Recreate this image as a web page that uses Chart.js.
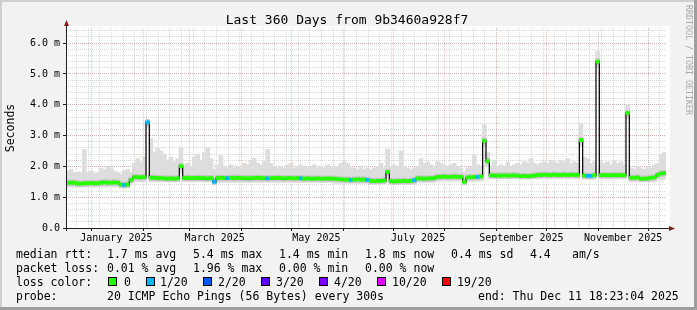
<!DOCTYPE html>
<html>
<head>
<meta charset="utf-8">
<script src="https://cdn.jsdelivr.net/npm/chart.js@4.4.1/dist/chart.umd.min.js"></script>
<style>
  html, body { margin: 0; padding: 0; background: #f2f2f2; }
</style>
</head>
<body>
<canvas id="myChart" width="697" height="310"></canvas>
<script>
// graph window: 360 days ending Thu Dec 11 18:23:04 2025 (UTC)
const startTime = Date.UTC(2024, 11, 16, 18, 23, 4)
const DAY = 86400000
const spanDays = 360
const bucketDays = 2

// median rtt per 2-day bucket, ms
const median = [
  1.47, 1.47, 1.47, 1.44, 1.44, 1.45, 1.45, 1.46, 1.45, 1.45,
  1.47, 1.48, 1.47, 1.47, 1.48, 1.47, 1.41, 1.40, 1.41, 1.56,
  1.65, 1.65, 1.64, 1.65, 3.43, 1.63, 1.63, 1.62, 1.62, 1.61,
  1.60, 1.61, 1.60, 1.61, 2.01, 1.62, 1.63, 1.62, 1.62, 1.63,
  1.62, 1.62, 1.61, 1.62, 1.50, 1.62, 1.63, 1.62, 1.62, 1.63,
  1.62, 1.63, 1.62, 1.62, 1.61, 1.62, 1.62, 1.63, 1.62, 1.62,
  1.61, 1.62, 1.62, 1.63, 1.62, 1.61, 1.62, 1.62, 1.61, 1.62,
  1.61, 1.60, 1.61, 1.60, 1.60, 1.61, 1.60, 1.60, 1.61, 1.60,
  1.60, 1.59, 1.58, 1.57, 1.57, 1.56, 1.57, 1.58, 1.57, 1.57,
  1.56, 1.53, 1.52, 1.53, 1.53, 1.54, 1.82, 1.52, 1.51, 1.52,
  1.52, 1.53, 1.52, 1.53, 1.55, 1.61, 1.61, 1.60, 1.61, 1.61,
  1.62, 1.66, 1.66, 1.67, 1.66, 1.66, 1.67, 1.66, 1.66, 1.50,
  1.64, 1.65, 1.65, 1.66, 1.67, 2.83, 2.17, 1.71, 1.70, 1.70,
  1.70, 1.71, 1.70, 1.70, 1.71, 1.70, 1.68, 1.69, 1.68, 1.69,
  1.70, 1.72, 1.72, 1.73, 1.72, 1.72, 1.73, 1.72, 1.72, 1.73,
  1.72, 1.73, 1.72, 1.72, 2.85, 1.70, 1.69, 1.69, 1.71, 5.40,
  1.71, 1.72, 1.71, 1.71, 1.72, 1.71, 1.72, 1.71, 3.73, 1.63,
  1.63, 1.64, 1.60, 1.60, 1.61, 1.63, 1.64, 1.72, 1.77, 1.78
]

// smoke: lowest and highest ping per bucket, ms
const smokeLo = [
  1.33, 1.33, 1.33, 1.33, 1.33, 1.33, 1.33, 1.33, 1.33, 1.33,
  1.33, 1.33, 1.33, 1.33, 1.33, 1.33, 1.30, 1.30, 1.30, 1.42,
  1.50, 1.50, 1.50, 1.50, 3.25, 1.50, 1.50, 1.50, 1.50, 1.50,
  1.50, 1.50, 1.50, 1.50, 1.85, 1.50, 1.50, 1.50, 1.50, 1.50,
  1.50, 1.50, 1.50, 1.50, 1.40, 1.48, 1.48, 1.48, 1.48, 1.48,
  1.48, 1.48, 1.48, 1.48, 1.48, 1.48, 1.48, 1.48, 1.48, 1.48,
  1.48, 1.48, 1.48, 1.48, 1.48, 1.48, 1.48, 1.48, 1.48, 1.48,
  1.48, 1.48, 1.48, 1.48, 1.48, 1.48, 1.48, 1.48, 1.48, 1.48,
  1.45, 1.45, 1.45, 1.45, 1.45, 1.45, 1.45, 1.45, 1.45, 1.45,
  1.45, 1.42, 1.42, 1.42, 1.42, 1.42, 1.65, 1.42, 1.42, 1.42,
  1.42, 1.42, 1.42, 1.42, 1.42, 1.48, 1.48, 1.48, 1.48, 1.48,
  1.48, 1.52, 1.52, 1.52, 1.52, 1.52, 1.52, 1.52, 1.52, 1.40,
  1.52, 1.52, 1.52, 1.52, 1.52, 2.65, 2.00, 1.60, 1.60, 1.60,
  1.60, 1.60, 1.60, 1.60, 1.60, 1.60, 1.60, 1.60, 1.60, 1.60,
  1.60, 1.60, 1.60, 1.60, 1.60, 1.60, 1.60, 1.60, 1.60, 1.60,
  1.60, 1.60, 1.60, 1.60, 2.65, 1.58, 1.58, 1.58, 1.58, 5.20,
  1.60, 1.60, 1.60, 1.60, 1.60, 1.60, 1.60, 1.60, 3.55, 1.50,
  1.50, 1.50, 1.50, 1.50, 1.50, 1.50, 1.50, 1.58, 1.58, 1.58
]
const smokeHi = [
  1.85, 1.90, 1.80, 1.82, 1.78, 2.55, 1.80, 1.85, 1.75, 1.80,
  1.95, 1.90, 2.00, 1.95, 1.85, 1.80, 1.75, 1.85, 1.90, 1.80,
  2.10, 2.25, 2.15, 2.30, 3.50, 2.90, 2.45, 2.60, 2.50, 2.40,
  2.20, 2.30, 2.15, 2.25, 2.60, 2.05, 2.10, 2.00, 2.30, 2.40,
  2.20, 2.45, 2.60, 2.25, 1.90, 2.05, 2.35, 2.00, 1.95, 2.05,
  1.95, 2.00, 1.95, 2.10, 2.05, 2.20, 2.25, 2.10, 2.05, 2.15,
  2.55, 2.10, 2.00, 1.95, 2.00, 1.95, 2.05, 2.10, 1.95, 2.00,
  2.05, 2.00, 1.95, 2.00, 2.05, 1.95, 2.00, 1.95, 2.05, 2.00,
  1.95, 2.00, 2.10, 2.15, 2.10, 1.95, 1.95, 1.90, 2.00, 1.90,
  1.95, 1.90, 1.95, 2.00, 2.10, 1.95, 2.55, 2.00, 2.05, 2.00,
  2.50, 2.00, 1.95, 1.90, 1.95, 2.00, 2.25, 2.10, 2.15, 2.05,
  2.00, 2.15, 2.10, 2.05, 2.00, 2.05, 2.10, 2.00, 1.95, 1.80,
  1.95, 2.00, 2.35, 2.05, 2.00, 3.35, 2.45, 2.00, 2.20, 2.00,
  2.05, 2.00, 2.15, 2.00, 2.05, 2.10, 2.05, 2.15, 2.10, 2.25,
  2.10, 2.05, 2.10, 2.15, 2.10, 2.20, 2.15, 2.10, 2.20, 2.15,
  2.25, 2.10, 2.15, 2.10, 3.40, 2.30, 2.25, 2.10, 2.15, 5.75,
  2.15, 2.10, 2.15, 2.05, 2.20, 2.10, 2.15, 2.05, 4.00, 1.95,
  1.90, 2.00, 1.95, 1.90, 2.00, 1.95, 2.05, 2.10, 2.40, 2.45
]

// buckets where 1 of 20 pings was lost
const lossBuckets = [17, 24, 44, 48, 60, 70, 85, 90, 104, 123, 156, 157]

// axis ticks
const monthStarts = ['2025-01-01', '2025-02-01', '2025-03-01', '2025-04-01', '2025-05-01', '2025-06-01',
  '2025-07-01', '2025-08-01', '2025-09-01', '2025-10-01', '2025-11-01', '2025-12-01']
const labelDates = ['2025-01-16', '2025-03-16', '2025-05-16', '2025-07-16', '2025-09-16', '2025-11-16']
const labelTexts = ['January 2025', 'March 2025', 'May 2025', 'July 2025', 'September 2025', 'November 2025']
const firstMonday = '2024-12-23'
const yMajor = [0, 1, 2, 3, 4, 5, 6]
const yLabels = ['0.0', '1.0 m', '2.0 m', '3.0 m', '4.0 m', '5.0 m', '6.0 m']
const yMax = 6.49

// legend
const lossNames = ['0', '1/20', '2/20', '3/20', '4/20', '10/20', '19/20']
const lossColors = ['#26ff00', '#00b8ff', '#0059ff', '#5e00ff', '#7e00ff', '#dd00ff', '#ff0000']
const rttStats = ['1.7 ms avg', '5.4 ms max', '1.4 ms min', '1.8 ms now', '0.4 ms sd', '4.4', 'am/s']
const lossStats = ['0.01 % avg', '1.96 % max', '0.00 % min', '0.00 % now']

// --- styles / layout ---
const MONO = '"DejaVu Sans Mono", monospace'
const MINOR = 'rgba(150,150,150,0.35)'
const MAJOR = 'rgba(222,79,79,0.32)'
const LINE_HALF = 0.05
const BAND_HALF = 0.09
const statX = [107, 193, 279, 365, 451, 530, 572]
const boxX = [108, 146, 203, 261, 319, 377, 442]
const nameX = [124, 160, 218, 276, 334, 392, 457]

const dayOf = d => (Date.parse(d + 'T00:00:00Z') - startTime) / DAY
const weekTicks = []
for (let d = dayOf(firstMonday); d < spanDays; d += 7) weekTicks.push(d)
const yMinor = []
for (let k = 0; k * 0.2 < yMax; k++) yMinor.push(Math.round(k * 2) / 10)

const xs = median.map((v, i) => i * bucketDays + bucketDays / 2)
const lossColorAt = median.map((v, i) => lossBuckets.includes(i) ? lossColors[1] : lossColors[0])

const setTicks = list => scale => { scale.ticks = list.map(v => ({ value: v })) }

const decor = {
  id: 'decor',
  beforeDraw(chart) {
    const { ctx, chartArea: a } = chart
    ctx.save()
    ctx.fillStyle = '#f2f2f2'
    ctx.fillRect(0, 0, 697, 310)
    ctx.fillStyle = '#cfcfcf'
    ctx.fillRect(0, 0, 697, 2)
    ctx.fillRect(0, 0, 2, 310)
    ctx.fillStyle = '#9e9e9e'
    ctx.fillRect(0, 307, 697, 3)
    ctx.fillRect(694, 0, 3, 310)
    ctx.fillStyle = '#ffffff'
    ctx.fillRect(a.left, a.top - 2, a.right - a.left + 4, a.bottom - a.top + 2)
    ctx.restore()
  },
  afterDatasetsDraw(chart) {
    const { ctx, chartArea: a } = chart
    ctx.save()
    ctx.strokeStyle = '#1f1f1f'
    ctx.lineWidth = 1
    ctx.beginPath()
    ctx.moveTo(a.left + 0.5, a.bottom + 3)
    ctx.lineTo(a.left + 0.5, a.top - 4)
    ctx.moveTo(a.left - 3, a.bottom + 0.5)
    ctx.lineTo(a.right + 5, a.bottom + 0.5)
    ctx.stroke()
    ctx.fillStyle = '#801f1f'
    ctx.beginPath()
    ctx.moveTo(a.left + 0.5, a.top - 8)
    ctx.lineTo(a.left - 2, a.top - 2)
    ctx.lineTo(a.left + 3, a.top - 2)
    ctx.fill()
    ctx.beginPath()
    ctx.moveTo(a.right + 9, a.bottom + 0.5)
    ctx.lineTo(a.right + 3, a.bottom - 2)
    ctx.lineTo(a.right + 3, a.bottom + 3)
    ctx.fill()
    ctx.restore()
  },
  afterDraw(chart) {
    const { ctx, chartArea: a } = chart
    ctx.save()
    ctx.fillStyle = '#000'
    ctx.textBaseline = 'alphabetic'
    ctx.font = '13px ' + MONO
    ctx.textAlign = 'center'
    ctx.fillText('Last 360 Days from 9b3460a928f7', 347, 24)

    ctx.save()
    ctx.font = '11.5px ' + MONO
    ctx.translate(11, (a.top + a.bottom) / 2)
    ctx.rotate(-Math.PI / 2)
    ctx.textBaseline = 'middle'
    ctx.fillText('Seconds', 0, 0)
    ctx.restore()

    ctx.save()
    ctx.font = '8.3px ' + MONO
    ctx.fillStyle = '#a8a8a8'
    ctx.translate(688, 5)
    ctx.rotate(Math.PI / 2)
    ctx.textAlign = 'left'
    ctx.textBaseline = 'middle'
    ctx.fillText('RRDTOOL / TOBI OETIKER', 0, 0)
    ctx.restore()

    ctx.textAlign = 'left'
    ctx.font = '11.5px ' + MONO
    ctx.fillText('median rtt:', 16, 258)
    rttStats.forEach((t, i) => ctx.fillText(t, statX[i], 258))
    ctx.fillText('packet loss:', 16, 272)
    lossStats.forEach((t, i) => ctx.fillText(t, statX[i], 272))
    ctx.fillText('loss color:', 16, 286)
    lossNames.forEach((t, i) => {
      ctx.fillStyle = lossColors[i]
      ctx.fillRect(boxX[i], 277, 9, 9)
      ctx.strokeStyle = '#000'
      ctx.lineWidth = 1
      ctx.strokeRect(boxX[i] + 0.5, 277.5, 8, 8)
      ctx.fillStyle = '#000'
      ctx.fillText(t, nameX[i], 286)
    })
    ctx.fillText('probe:', 16, 300)
    ctx.fillText('20 ICMP Echo Pings (56 Bytes) every 300s', 107, 300)
    ctx.fillText('end: Thu Dec 11 18:23:04 2025', 478, 300)
    ctx.restore()
  }
}

const ctx = document.getElementById('myChart').getContext('2d')
const myChart = new Chart(ctx, {
  type: 'bar',
  data: {
    datasets: [{
      type: 'bar',
      label: 'smoke',
      data: xs.map((x, i) => ({ x: x, y: [smokeLo[i], smokeHi[i]] })),
      backgroundColor: '#dddddd',
      barThickness: 4,
      grouped: false,
      order: 4,
      xAxisID: 'x',
      yAxisID: 'y'
    }, {
      type: 'bar',
      label: 'band',
      data: xs.map((x, i) => ({ x: x, y: [median[i] - BAND_HALF, median[i] + BAND_HALF] })),
      backgroundColor: '#c6c6c6',
      barThickness: 4,
      grouped: false,
      order: 3,
      xAxisID: 'x',
      yAxisID: 'y'
    }, {
      type: 'line',
      label: 'median step',
      data: xs.map((x, i) => ({ x: x, y: median[i] })),
      stepped: 'middle',
      borderColor: '#000',
      borderWidth: 1.2,
      pointRadius: 0,
      order: 2,
      xAxisID: 'x',
      yAxisID: 'y'
    }, {
      type: 'bar',
      label: 'median rtt',
      data: xs.map((x, i) => ({ x: x, y: [median[i] - LINE_HALF, median[i] + LINE_HALF] })),
      backgroundColor: lossColorAt,
      barThickness: 3.6,
      grouped: false,
      order: 1,
      xAxisID: 'x',
      yAxisID: 'y'
    }]
  },
  options: {
    responsive: false,
    devicePixelRatio: 1,
    animation: false,
    events: [],
    layout: { padding: { top: 28, right: 31, left: 0, bottom: 0 } },
    plugins: { legend: { display: false }, tooltip: { enabled: false }, title: { display: false } },
    scales: {
      x: {
        type: 'linear', position: 'bottom', min: 0, max: spanDays, offset: false, weight: 0,
        afterBuildTicks: setTicks(weekTicks),
        afterFit: s => { s.height = 0 },
        ticks: { display: false },
        grid: { color: MINOR, lineWidth: 1, drawTicks: false, offset: false },
        border: { display: false, dash: [1, 1] }
      },
      x2: {
        type: 'linear', position: 'bottom', min: 0, max: spanDays, offset: false, weight: 1,
        afterBuildTicks: setTicks(monthStarts.map(dayOf)),
        afterFit: s => { s.height = 0 },
        ticks: { display: false },
        grid: { color: MAJOR, lineWidth: 1, drawTicks: true, tickLength: 3, tickColor: '#1f1f1f', offset: false },
        border: { display: false, dash: [1, 1] }
      },
      x3: {
        type: 'linear', position: 'bottom', min: 0, max: spanDays, offset: false, weight: 2,
        afterBuildTicks: setTicks(labelDates.map(dayOf)),
        afterFit: s => { s.height = 82 },
        ticks: {
          autoSkip: false, maxRotation: 0, padding: 4, color: '#000',
          font: { family: MONO, size: 10 },
          callback: (v, i) => labelTexts[i]
        },
        grid: { display: false, drawTicks: false },
        border: { display: false }
      },
      y: {
        type: 'linear', position: 'left', min: 0, max: yMax, weight: 0,
        afterBuildTicks: setTicks(yMinor),
        afterFit: s => { s.width = 0 },
        ticks: { display: false },
        grid: { color: MINOR, lineWidth: 1, drawTicks: false },
        border: { display: false, dash: [1, 1] }
      },
      y2: {
        type: 'linear', position: 'left', min: 0, max: yMax, weight: 1,
        afterBuildTicks: setTicks(yMajor),
        afterFit: s => { s.width = 66 },
        ticks: {
          padding: 3, color: '#000',
          font: { family: MONO, size: 10 },
          callback: (v, i) => yLabels[i]
        },
        grid: { color: MAJOR, lineWidth: 1, drawTicks: true, tickLength: 3, tickColor: '#1f1f1f' },
        border: { display: false, dash: [1, 1] }
      }
    }
  },
  plugins: [decor]
})
</script>
</body>
</html>
